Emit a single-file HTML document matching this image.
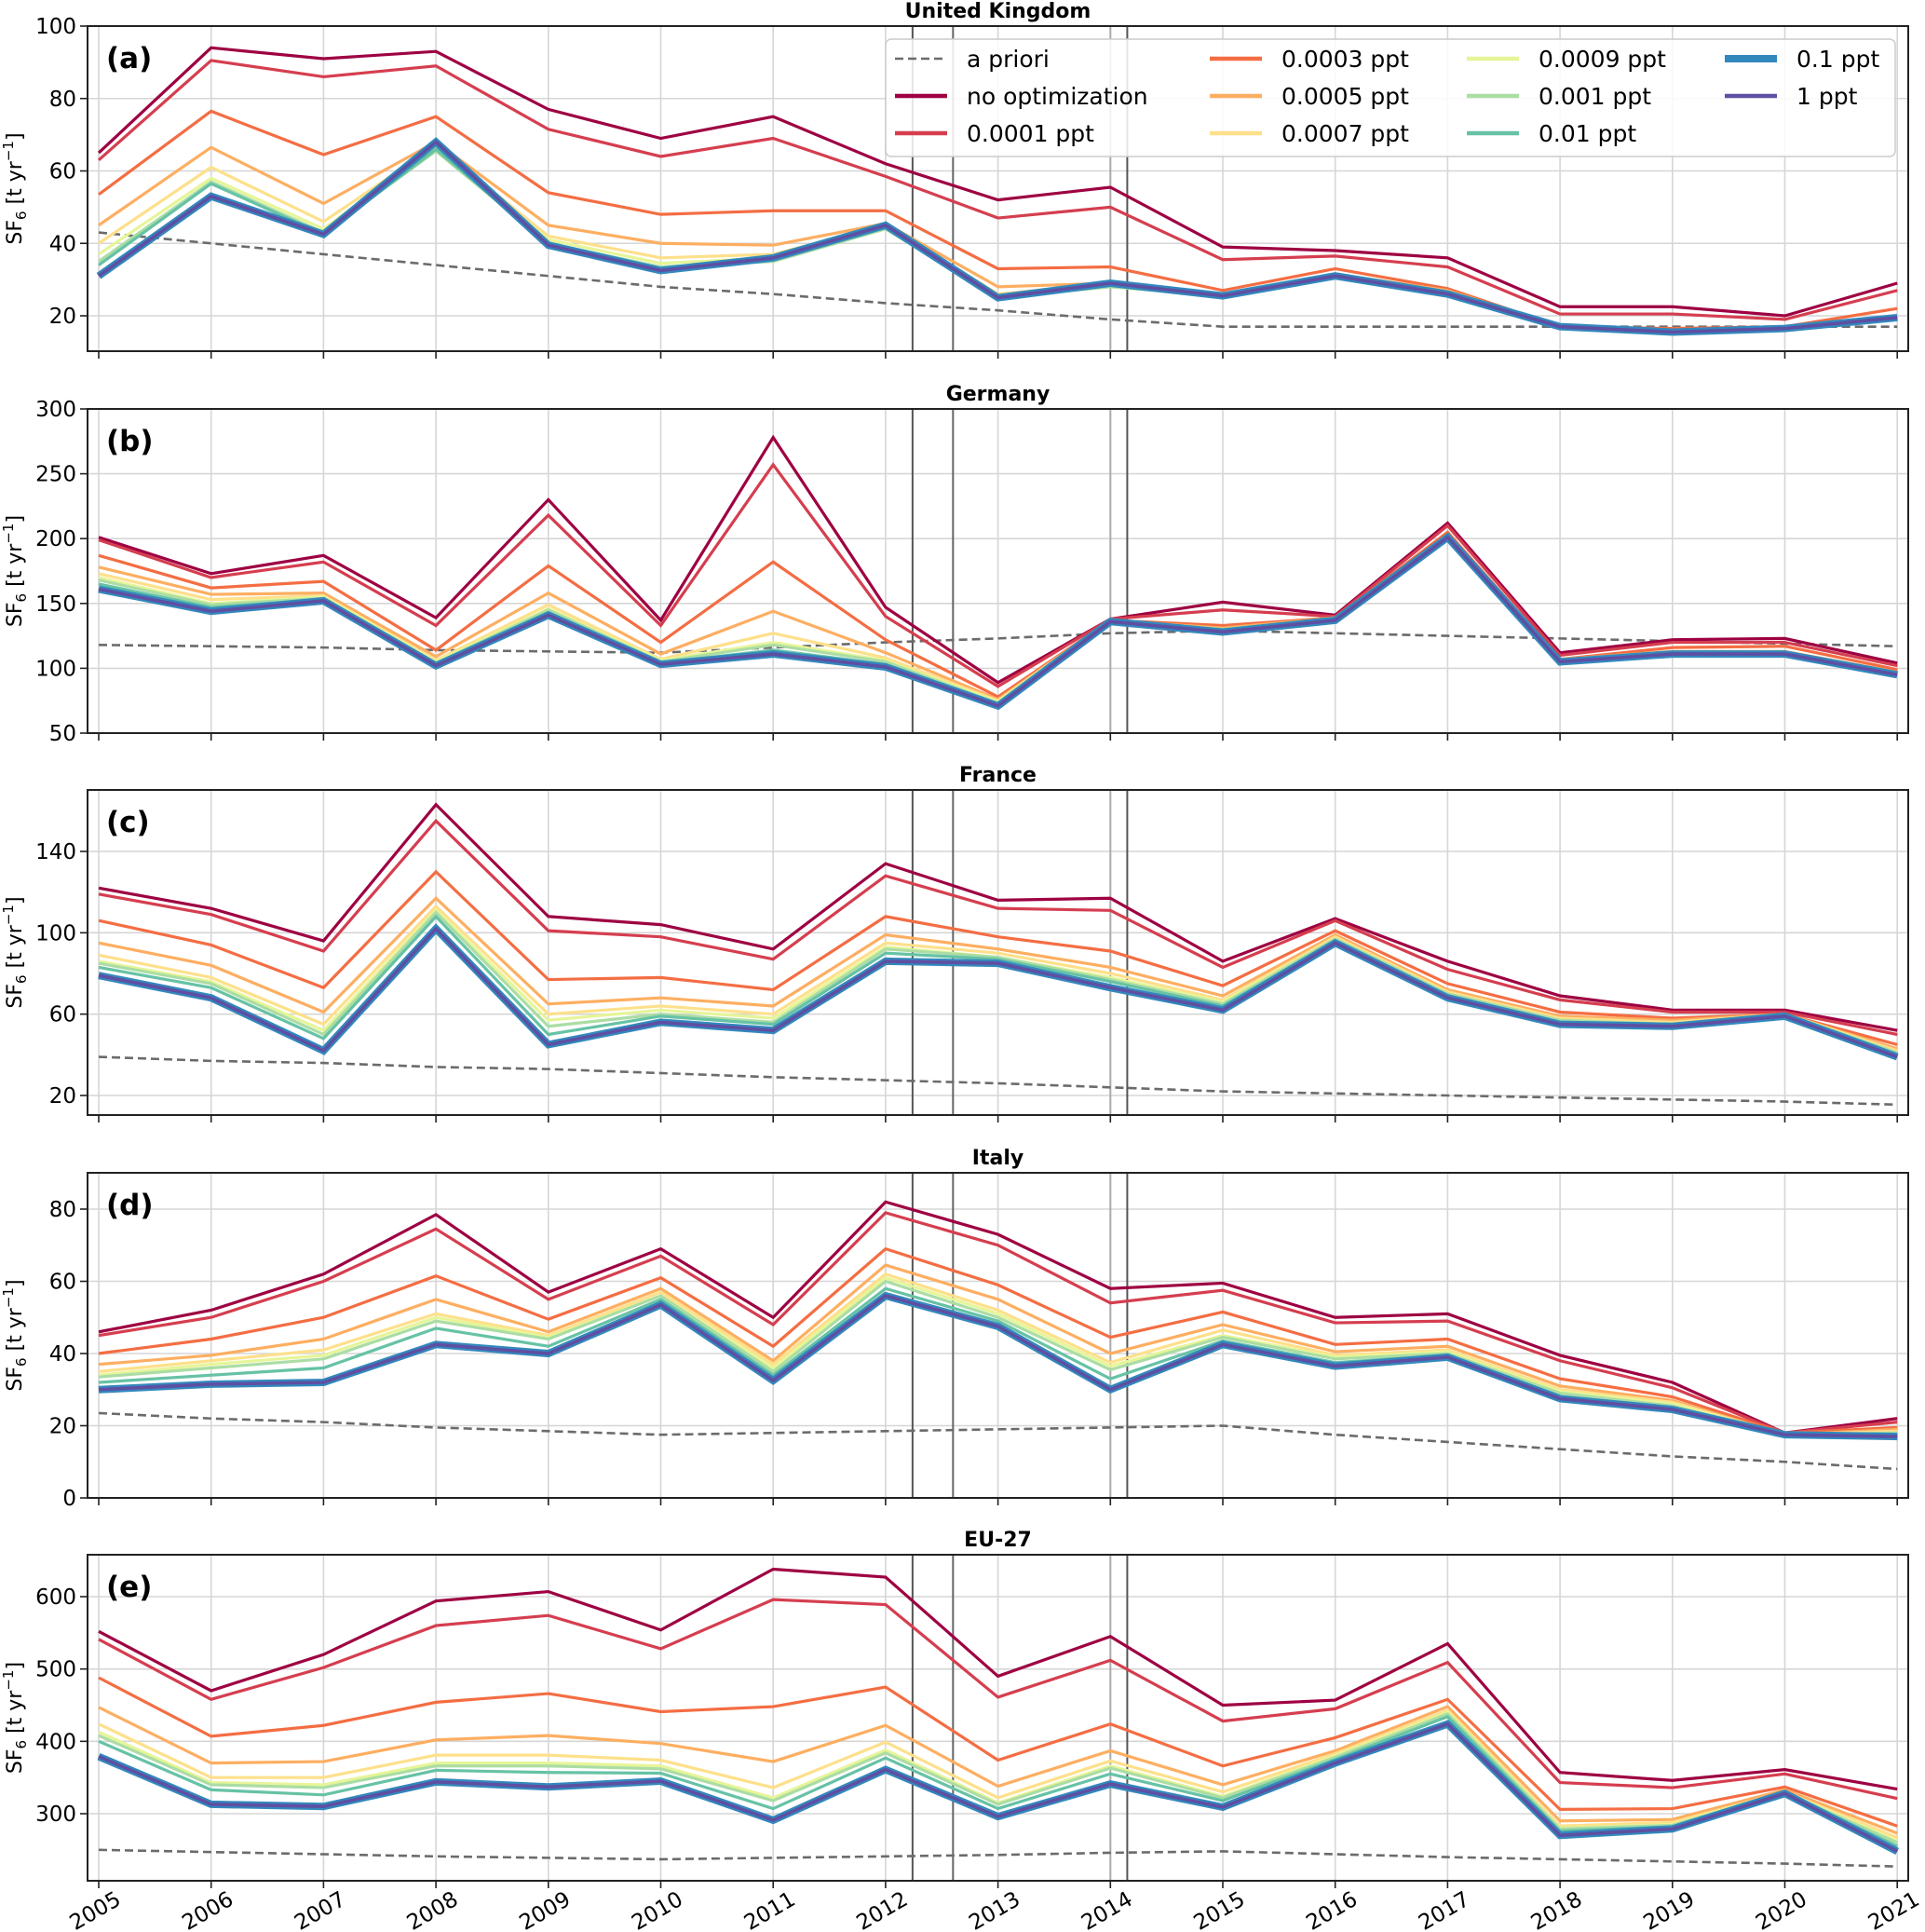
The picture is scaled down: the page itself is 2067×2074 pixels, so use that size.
<!DOCTYPE html>
<html><head><meta charset="utf-8"><style>
html,body{margin:0;padding:0;background:#fff}
svg{display:block;font-family:"DejaVu Sans","Liberation Sans",sans-serif}
</style></head><body>
<svg id="chart" width="2067" height="2074" viewBox="0 0 2067 2074" xmlns="http://www.w3.org/2000/svg"></svg>
<script>
const years=[2005,2006,2007,2008,2009,2010,2011,2012,2013,2014,2015,2016,2017,2018,2019,2020,2021];
const seriesNames=["no optimization","0.0001 ppt","0.0003 ppt","0.0005 ppt","0.0007 ppt","0.0009 ppt","0.001 ppt","0.01 ppt","0.1 ppt","1 ppt"];
const markerYears=[2012.24,2012.6,2014.0,2014.15];

const ukApriori=[43,40,37,34,31,28,26,23.5,21.5,19,17,17,17,17,17,17,17];
const ukNoOpt=[65,94,91,93,77,69,75,62,52,55.5,39,38,36,22.5,22.5,20,29];
const uk0001=[63,90.5,86,89,71.5,64,69,58.5,47,50,35.5,36.5,33.5,20.5,20.5,19,27];
const uk0003=[53.5,76.5,64.5,75,54,48,49,49,33,33.5,27,33,27.5,17,16.5,17,22];
const uk0005=[45,66.5,51,68,45,40,39.5,45.5,28,29,26,31.5,27,17,16,16.5,20];
const uk0007=[40,61,46,67,42,36,37,45,26,29,25.5,31,26.5,17,16,16.5,19.5];
const uk0009=[37,58,44,66.5,41,34.5,36,45,25.5,28.5,25.5,31,26.5,17,15.5,16.5,19.5];
const uk001=[35,57,43,65.5,40,33.5,35,44,25,28,25.5,31,26.5,17,15.5,16.5,19.5];
const uk01=[34,56.5,42.5,66,40,33,35.5,44.5,25,28.5,25.5,31,26.5,17,15.5,16.5,19.5];
const uk1=[31,53,42.5,68,39.5,32.5,36,45,25,29,25.5,31,26,17,15.5,16.5,19.5];
const uk10=[31,53,42.5,68,39.5,32.5,36,45,25,29,25.5,31,26,17,15.5,16.5,19.5];

const deApriori=[118,117,116,114,113,112,116,120,123,127,129,127,125,123,121,119,117];
const deNoOpt=[201,173,187,139,230,137,278,147,89,138,151,141,212,112,122,123,104];
const de0001=[199,170,182,133,218,133,257,140,86,138,145,140,210,110,120,120,102];
const de0003=[187,162,167,114,179,120,182,122,78,137,133,139,205,107,116,117,99];
const de0005=[178,157,158,109,158,111,144,112,76,137,131,139,203,107,113,113,97];
const de0007=[173,153,156,106,149,107,127,108,75,137,130,138,202,106,112,112,96];
const de0009=[170,150,155,105,146,106,120,106,74,137,130,138,202,106,112,112,96];
const de001=[168,149,154,104,145,105,118,105,73,137,130,138,202,106,112,112,96];
const de01=[165,147,153,103,143,104,114,103,72,137,129,138,201,105,111,111,95];
const de1=[161,144,152,102,141,103,111,101,71,136,128,137,201,105,111,111,95];
const de10=[161,144,152,102,141,103,111,101,71,136,128,137,201,105,111,111,95];

const frApriori=[39,37,36,34,33,31,29,27.5,26,24,22,21,20,19,18,17,15.5];
const frNoOpt=[122,112,96,163,108,104,92,134,116,117,86,107,86,69,62,62,52];
const fr0001=[119,109,91,155,101,98,87,128,112,111,83,106,82,67,61,61,50];
const fr0003=[106,94,73,130,77,78,72,108,98,91,74,101,75,61,58,60,45];
const fr0005=[95,84,61,117,65,68,64,99,92,83,69,99,72,59,57,60,43];
const fr0007=[89,78,55,113,60,64,60,95,90,80,67,98,71,58,56,60,42];
const fr0009=[86,76,52,111,57,62,58,93,88,78,66,97,70,57,55,60,41];
const fr001=[85,75,50,110,54,60,56,92,88,77,65,97,70,57,55,60,41];
const fr01=[83,73,48,108,50,59,55,90,87,76,64,96,69,56,55,60,40];
const fr1=[79,68,42,102,45,56,52,86,85,73,62,95,68,55,54,59,39];
const fr10=[79,68,42,102,45,56,52,86,85,73,62,95,68,55,54,59,39];

const itApriori=[23.5,22,21,19.5,18.5,17.5,18,18.5,19,19.5,20,17.5,15.5,13.5,11.5,10,8];
const itNoOpt=[46,52,62,78.5,57,69,50,82,73,58,59.5,50,51,39.5,32,18,22];
const it0001=[45,50,60,74.5,55,67,48,79,70,54,57.5,48.5,49,38,30.5,18,21];
const it0003=[40,44,50,61.5,49.5,61,42,69,59,44.5,51.5,42.5,44,33,28,18,19.5];
const it0005=[37,39.5,44,55,46,58,38,64.5,55,40,48,40.5,42,31,27,17.5,19];
const it0007=[35,38,41,51,45,57,37,62,52,37.5,46.5,39.5,41,30,26.5,17.5,18.5];
const it0009=[34,37,39.5,50,44.5,56,36,61,51,36.5,45,39,40.5,29.5,26,17.5,18];
const it001=[33.5,36,38.5,49,44,56,35,60,50,35.5,44.5,38.5,40,29,25.5,17.5,18];
const it01=[32,34,36,47,42,55,34,58,49,33,43.5,37.5,39.5,28,25,17.5,17.5];
const it1=[30,31.5,32,42.5,40,53.5,32.5,56,47.5,30,42.5,36.5,39,27.5,24.5,17.5,17];
const it10=[30,31.5,32,42.5,40,53.5,32.5,56,47.5,30,42.5,36.5,39,27.5,24.5,17.5,17];

const euApriori=[250,247,244,241,239,237,239,241,243,246,248,244,240,237,234,231,227];
const euNoOpt=[552,470,520,594,607,554,638,627,490,545,450,457,535,357,346,361,334];
const eu0001=[541,458,502,560,574,528,596,589,461,512,428,445,509,343,336,355,321];
const eu0003=[488,407,422,454,466,441,448,475,374,424,366,405,458,306,307,337,283];
const eu0005=[447,370,372,402,408,397,372,422,338,387,340,387,448,290,292,333,273];
const eu0007=[424,350,350,381,381,374,336,399,322,373,330,383,443,283,288,330,267];
const eu0009=[413,343,340,370,370,366,322,388,315,366,324,380,440,280,285,330,262];
const eu001=[408,340,336,366,366,362,318,384,313,363,322,378,438,279,284,329,260];
const eu01=[400,333,326,360,357,356,307,377,307,355,318,375,434,276,282,329,255];
const eu1=[379,313,310,344,337,345,291,361,296,341,309,370,424,270,279,328,248];
const eu10=[379,313,310,344,337,345,291,361,296,341,309,370,424,270,279,328,248];

const ukTicks=[20,40,60,80,100];
const deTicks=[50,100,150,200,250,300];
const frTicks=[20,60,100,140];
const itTicks=[0,20,40,60,80];
const euTicks=[300,400,500,600];

const NS="http://www.w3.org/2000/svg";
const svg=document.getElementById('chart');
const colors=["#9e0142","#d53e4f","#f46d43","#fdae61","#fee08b","#e6f598","#abdda4","#66c2a5","#3288bd","#5e4fa2"];
const widths=[3.2,3.2,3.2,3.2,3.2,3.2,3.2,3.2,8,3.6];
const L=94,R=2049;
function xs(yr){return 106+(yr-2005)*120.7;}
function mk(tag,attrs,parent){const e=document.createElementNS(NS,tag);for(const k in attrs)e.setAttribute(k,attrs[k]);(parent||svg).appendChild(e);return e;}

const panels=[
 {key:"uk",title:"United Kingdom",label:"(a)",top:28,bot:377,v0:20,p0:339,v1:100,p1:28,ticks:ukTicks,apriori:ukApriori,series:[ukNoOpt,uk0001,uk0003,uk0005,uk0007,uk0009,uk001,uk01,uk1,uk10]},
 {key:"de",title:"Germany",label:"(b)",top:439,bot:787,v0:50,p0:787,v1:300,p1:439,ticks:deTicks,apriori:deApriori,series:[deNoOpt,de0001,de0003,de0005,de0007,de0009,de001,de01,de1,de10]},
 {key:"fr",title:"France",label:"(c)",top:848,bot:1197,v0:20,p0:1176,v1:140,p1:914,ticks:frTicks,apriori:frApriori,series:[frNoOpt,fr0001,fr0003,fr0005,fr0007,fr0009,fr001,fr01,fr1,fr10]},
 {key:"it",title:"Italy",label:"(d)",top:1259,bot:1608,v0:0,p0:1608,v1:80,p1:1298,ticks:itTicks,apriori:itApriori,series:[itNoOpt,it0001,it0003,it0005,it0007,it0009,it001,it01,it1,it10]},
 {key:"eu",title:"EU-27",label:"(e)",top:1669,bot:2019,v0:300,p0:1947,v1:600,p1:1714,ticks:euTicks,apriori:euApriori,series:[euNoOpt,eu0001,eu0003,eu0005,eu0007,eu0009,eu001,eu01,eu1,eu10]}
];

panels.forEach((p,pi)=>{
 const ys=v=>p.p0+(v-p.v0)*(p.p1-p.p0)/(p.v1-p.v0);
 const g=mk('g',{});
 
 
 const clipId='clip'+pi;
 const cp=mk('clipPath',{id:clipId},g);mk('rect',{x:L,y:p.top,width:R-L,height:p.bot-p.top},cp);
 // grid
 years.forEach(yr=>{const l=mk('line',{x1:xs(yr),x2:xs(yr),y1:p.top,y2:p.bot,stroke:"#d6d6d6","stroke-width":1.6},g);
  });
 p.ticks.forEach(t=>{const y=ys(t);
  const l=mk('line',{x1:L,x2:R,y1:y,y2:y,stroke:"#d6d6d6","stroke-width":1.6},g);
  
  const tk=mk('line',{x1:L-8,x2:L,y1:y,y2:y,stroke:"#222","stroke-width":1.6},g);
  
  const tx=mk('text',{x:L-12,y:y+8,"text-anchor":"end","font-size":23,fill:"#000"},g);tx.textContent=t;
  });
 // event markers
 const mcol=["#555","#666","#aaa","#555"];
 markerYears.forEach((m,i)=>{const l=mk('line',{x1:xs(m),x2:xs(m),y1:p.top,y2:p.bot,stroke:mcol[i],"stroke-width":2},g);
  });
 const lg=mk('g',{'clip-path':'url(#'+clipId+')'},g);
 const ap=mk('polyline',{points:years.map((yr,i)=>xs(yr)+','+ys(p.apriori[i])).join(' '),fill:"none",stroke:"#6b6b6b","stroke-width":2.6,"stroke-dasharray":"9,5"},lg);
 
 p.series.forEach((s,si)=>{
  const pl=mk('polyline',{points:years.map((yr,i)=>xs(yr)+','+ys(s[i])).join(' '),fill:"none",stroke:colors[si],"stroke-width":widths[si],"stroke-linejoin":"miter"},lg);
  
  
 });
 // frame
 const fr=mk('rect',{x:L,y:p.top,width:R-L,height:p.bot-p.top,fill:"none",stroke:"#222","stroke-width":2},g);
 
 years.forEach(yr=>{const t=mk('line',{x1:xs(yr),x2:xs(yr),y1:p.bot,y2:p.bot+8,stroke:"#222","stroke-width":1.6},g);
  
  if(pi===4){const tx=mk('text',{x:0,y:0,"text-anchor":"middle","font-size":23,transform:`translate(${xs(yr)},${2058}) rotate(-30)`},g);
   tx.textContent=yr;}});
 const ti=mk('text',{x:(L+R)/2,y:p.top-9,"text-anchor":"middle","font-size":22,"font-weight":"bold"},g);
 ti.textContent=p.title;
 const lb=mk('text',{x:114,y:p.top+45,"font-size":31,"font-weight":"bold"},g);
 lb.textContent=p.label;
 const cy=(p.top+p.bot)/2;
 const yl=mk('text',{x:0,y:0,"text-anchor":"middle","font-size":22,transform:`translate(23,${cy}) rotate(-90)`},g);
 
 yl.innerHTML='SF<tspan font-size="15" dy="5">6</tspan><tspan dy="-5"> [t yr</tspan><tspan font-size="15" dy="-9">−1</tspan><tspan dy="9">]</tspan>';
});

// legend
const leg=mk('g',{});


const lbox=mk('rect',{x:951,y:42,width:1084,height:126,rx:6,fill:"#fff","fill-opacity":0.85,stroke:"#ccc","stroke-width":1.5},leg);

const entries=[{n:"a priori",c:"#6b6b6b",w:2.6,d:"9,5"}].concat(seriesNames.map((n,i)=>({n:n,c:colors[i],w:i===8?8:4.5})));
const colX=[961,1299,1575,1852],rowY=[63,103,143];
entries.forEach((e,i)=>{const col=Math.floor(i/3),row=i%3;const x=colX[col],y=rowY[row];
 const eg=mk('g',{},leg);
 
 const a={x1:x,x2:x+56,y1:y,y2:y,stroke:e.c,"stroke-width":e.w};if(e.d)a["stroke-dasharray"]=e.d;
 mk('line',a,eg);
 const t=mk('text',{x:x+77,y:y+9,"font-size":25},eg);t.textContent=e.n;});
</script>
</body></html>
